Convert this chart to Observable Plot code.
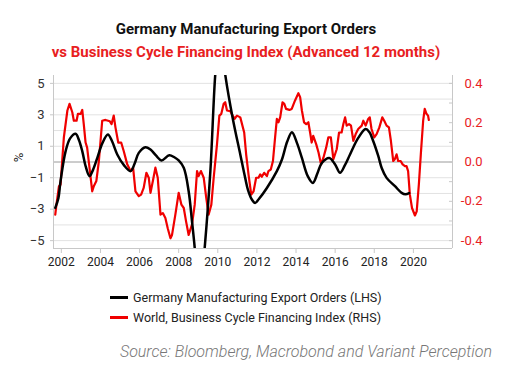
<!DOCTYPE html>
<html>
<head>
<meta charset="utf-8">
<script src="https://cdn.jsdelivr.net/npm/d3@7"></script>
<script src="https://cdn.jsdelivr.net/npm/@observablehq/plot@0.6"></script>
<style>
  html, body { margin: 0; padding: 0; background: #fff; }
  body { width: 516px; height: 375px; position: relative; font-family: Roboto, "Noto Sans", sans-serif; overflow: hidden; }
  .abs { position: absolute; white-space: nowrap; }
  #title { left: 0; width: 492px; text-align: center; top: 20px; font-weight: 700; font-size: 15px; line-height: 18px; color: #111; }
  #subtitle { left: 0; width: 492px; text-align: center; top: 43px; font-weight: 700; font-size: 15px; line-height: 18px; color: #e8201e; }
  #chart { left: 0; top: 70px; }
  #ylab { left: 14px; top: 150px; font-size: 13px; color: #222; transform: rotate(-90deg); transform-origin: center; }
  .leg { left: 110px; font-size: 12.5px; color: #222; display: flex; align-items: center; }
  .sw { width: 18px; height: 3px; margin-right: 5px; }
  #source { right: 24px; top: 342px; font-size: 16px; line-height: 20px; font-style: italic; font-weight: 300; color: #777; }
</style>
</head>
<body>
<div id="title" class="abs">Germany Manufacturing Export Orders</div>
<div id="subtitle" class="abs">vs Business Cycle Financing Index (Advanced 12 months)</div>
<div id="ylab" class="abs">%</div>
<div id="chart" class="abs"></div>
<div class="abs leg" style="top:290px"><span class="sw" style="background:#000"></span>Germany Manufacturing Export Orders (LHS)</div>
<div class="abs leg" style="top:310px"><span class="sw" style="background:#f00000"></span>World, Business Cycle Financing Index (RHS)</div>
<div id="source" class="abs">Source: Bloomberg, Macrobond and Variant Perception</div>
<script>
// Germany Manufacturing Export Orders (LHS, %)
const germanyYear = [2001.69,2001.85,2001.96,2002.22,2002.45,2002.73,2002.9,2003.07,2003.25,2003.44,2003.62,2003.84,2004.1,2004.38,2004.6,2004.86,2005.2,2005.54,2005.75,2005.96,2006.3,2006.56,2006.85,2007.12,2007.52,2007.78,2008.0,2008.26,2008.51,2008.68,2008.82,2009.0,2009.12,2009.33,2009.62,2009.87,2010.05,2010.2,2010.38,2010.76,2011.15,2011.4,2011.55,2011.75,2011.91,2012.1,2012.51,2013.02,2013.28,2013.55,2013.79,2014.05,2014.3,2014.6,2014.86,2015.1,2015.32,2015.7,2016.0,2016.25,2016.5,2016.76,2017.18,2017.56,2017.75,2017.95,2018.2,2018.38,2018.63,2019.06,2019.4,2019.6,2019.78];
const germanyValue = [-2.92,-2.3,-1.22,0.69,1.5,1.79,1.4,0.69,-0.3,-0.9,-0.5,0.26,1.2,1.75,1.3,0.48,-0.2,-0.58,-0.1,0.58,0.94,0.79,0.4,0.1,0.43,0.3,0.1,-0.37,-1.86,-3.76,-5.46,-8.3,-8.2,-5.46,-0.58,5.56,7.9,7.4,5.56,2.8,0.48,-1.01,-1.8,-2.4,-2.6,-2.35,-1.65,-0.58,0.16,1.3,1.89,1.2,0.26,-0.9,-1.33,-0.7,-0.06,0.26,-0.16,-0.69,-0.2,0.48,1.53,2.1,1.9,1.32,0.4,-0.38,-1.01,-1.54,-1.96,-2.05,-1.98];

// World, Business Cycle Financing Index (RHS), advanced 12 months
const bcfiYear = [2001.69,2001.75,2001.88,2001.96,2002.13,2002.31,2002.42,2002.56,2002.64,2002.78,2002.85,2002.99,2003.07,2003.15,2003.24,2003.32,2003.44,2003.58,2003.66,2003.79,2003.92,2004.09,2004.26,2004.48,2004.57,2004.68,2004.77,2004.91,2005.06,2005.19,2005.37,2005.54,2005.67,2005.79,2005.96,2006.08,2006.21,2006.35,2006.47,2006.56,2006.68,2006.81,2006.93,2007.07,2007.19,2007.32,2007.44,2007.58,2007.66,2007.83,2008.0,2008.14,2008.26,2008.38,2008.51,2008.68,2008.82,2008.94,2009.02,2009.14,2009.28,2009.41,2009.53,2009.67,2009.79,2009.96,2010.08,2010.18,2010.3,2010.38,2010.47,2010.64,2010.76,2010.86,2010.98,2011.15,2011.35,2011.45,2011.57,2011.71,2011.83,2011.96,2012.08,2012.17,2012.25,2012.37,2012.51,2012.59,2012.71,2012.82,2012.93,2013.02,2013.1,2013.19,2013.31,2013.4,2013.49,2013.66,2013.78,2013.95,2014.12,2014.21,2014.3,2014.41,2014.52,2014.63,2014.72,2014.8,2014.88,2015.03,2015.15,2015.28,2015.4,2015.54,2015.65,2015.78,2015.91,2016.08,2016.2,2016.33,2016.42,2016.51,2016.59,2016.71,2016.81,2016.93,2017.05,2017.18,2017.36,2017.44,2017.56,2017.69,2017.77,2017.86,2018.0,2018.12,2018.26,2018.41,2018.51,2018.63,2018.75,2018.85,2018.97,2019.05,2019.14,2019.22,2019.35,2019.45,2019.57,2019.65,2019.73,2019.82,2019.93,2020.08,2020.17,2020.28,2020.38,2020.5,2020.58,2020.67,2020.75,2020.79];
const bcfiValue = [-0.268,-0.217,-0.123,-0.115,0.125,0.262,0.296,0.253,0.21,0.21,0.245,0.245,0.265,0.19,0.099,0.073,-0.029,-0.149,-0.123,-0.097,0.005,0.21,0.214,0.207,0.193,0.236,0.175,0.099,0.099,0.056,-0.012,-0.046,-0.029,-0.149,-0.174,-0.166,-0.132,-0.055,-0.08,-0.157,-0.097,-0.029,-0.08,-0.268,-0.26,-0.285,-0.337,-0.388,-0.371,-0.268,-0.157,-0.217,-0.234,-0.303,-0.371,-0.319,-0.217,-0.046,-0.072,-0.046,-0.08,-0.183,-0.268,-0.217,-0.08,0.091,0.236,0.245,0.296,0.304,0.262,0.258,0.236,0.22,0.236,0.227,0.15,0.039,-0.063,-0.166,-0.149,-0.08,-0.08,-0.063,-0.075,-0.055,-0.072,-0.046,-0.038,0.005,0.125,0.219,0.202,0.227,0.304,0.296,0.27,0.265,0.27,0.313,0.35,0.33,0.262,0.202,0.193,0.202,0.15,0.099,0.133,0.091,0.048,-0.012,0.022,0.073,0.125,0.125,0.014,0.065,0.15,0.15,0.193,0.227,0.185,0.193,0.185,0.108,0.142,0.168,0.185,0.21,0.185,0.219,0.227,0.168,0.125,0.142,0.176,0.227,0.21,0.185,0.176,0.108,0.005,0.014,0.039,0.005,0.005,-0.012,-0.021,-0.021,-0.046,-0.166,-0.234,-0.272,-0.251,-0.114,0.039,0.21,0.27,0.245,0.236,0.214];

const xDomain = [2001.6, 2022.0];
const leftDomain = [-5.5, 5.5];
const xTicks = [2002, 2004, 2006, 2008, 2010, 2012, 2014, 2016, 2018, 2020];
const leftTicks = [-5, -3, -1, 1, 3, 5];
const gridLines = [-5, -4, -3, -2, -1, 1, 2, 3, 4, 5];
const rightTicks = [-0.4, -0.2, 0.0, 0.2, 0.4];
const rightMinor = [-0.4, -0.3, -0.2, -0.1, 0.0, 0.1, 0.2, 0.3, 0.4];
const rightPerLeft = 0.08; // 0.4 on RHS aligns with 5 on LHS

const germany = germanyYear.map((x, i) => ({x, v: germanyValue[i]}));
const bcfi = bcfiYear.map((x, i) => ({x, v: bcfiValue[i]}));

const chart = Plot.plot({
  width: 516,
  height: 205,
  marginLeft: 53,
  marginRight: 64,
  marginTop: 5,
  marginBottom: 27,
  x: {domain: xDomain},
  y: {domain: leftDomain},
  style: {fontFamily: "Roboto, sans-serif", background: "transparent", overflow: "visible"},
  marks: [
    Plot.gridY(gridLines, {stroke: "#e2e2e2", strokeOpacity: 1, strokeWidth: 1}),
    Plot.ruleY([0], {stroke: "#9a9a9a", strokeWidth: 1}),
    Plot.ruleX(xDomain, {stroke: "#c8c8c8", strokeWidth: 1}),
    Plot.ruleY([leftDomain[0]], {stroke: "#c8c8c8", strokeWidth: 1}),
    Plot.axisX(xTicks, {tickFormat: d => String(d), tickSize: 5, tickPadding: 4, stroke: "#c8c8c8", fill: "#222", fontSize: 12, label: null}),
    Plot.axisY(leftTicks, {anchor: "left", tickSize: 3, tickPadding: 6, stroke: "#c8c8c8", fill: "#333", fontSize: 13, label: null}),
    Plot.axisY(rightMinor.map(v => v / rightPerLeft), {anchor: "right", tickSize: 4, insetRight: 4, stroke: "#c8c8c8", text: null, label: null}),
    Plot.axisY(rightTicks.map(v => v / rightPerLeft), {anchor: "right", tickSize: 0, tickPadding: 30, textAnchor: "end", fill: "#e8201e", fontSize: 13, label: null,
      tickFormat: d => (Math.round(d * rightPerLeft * 10) / 10).toFixed(1)}),
    Plot.line(bcfi, {x: "x", y: d => d.v / rightPerLeft, stroke: "#f00000", strokeWidth: 2.2, clip: true}),
    Plot.line(germany, {x: "x", y: "v", stroke: "#000", strokeWidth: 2.5, curve: "catmull-rom", clip: true})
  ]
});
document.getElementById("chart").appendChild(chart);
</script>
</body>
</html>
